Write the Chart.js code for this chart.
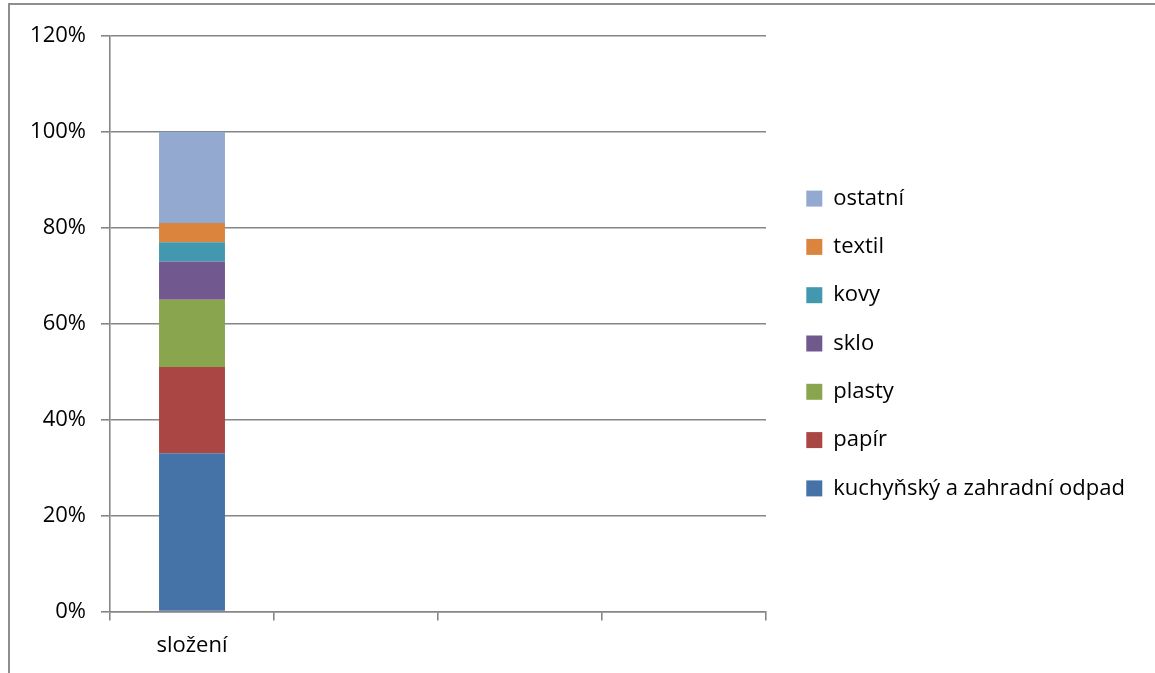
<!DOCTYPE html>
<html>
<head>
<meta charset="utf-8">
<script src="https://cdn.jsdelivr.net/npm/chart.js@4/dist/chart.umd.min.js"></script>
<style>
  html, body { margin: 0; padding: 0; background: #fff; overflow: hidden; }
  #frame { position: absolute; left: 8px; top: 3px; width: 2000px; height: 2000px;
           border-left: 2px solid #8e8e8e; border-top: 2px solid #8e8e8e; }
  #wrap { position: absolute; left: 0; top: 0; width: 1155px; height: 673px; }
</style>
</head>
<body>
<div id="frame"></div>
<div id="wrap"><canvas id="c" width="1155" height="673"></canvas></div>
<script>
const categories = ['složení', '', '', ''];
const seriesNames = ['kuchyňský a zahradní odpad', 'papír', 'plasty', 'sklo', 'kovy', 'textil', 'ostatní'];
const kuchynsky = [33, null, null, null];
const papir     = [18, null, null, null];
const plasty    = [14, null, null, null];
const sklo      = [8,  null, null, null];
const kovy      = [4,  null, null, null];
const textil    = [4,  null, null, null];
const ostatni   = [19, null, null, null];
const yTicks = [0, 20, 40, 60, 80, 100, 120];

const seriesValues = [kuchynsky, papir, plasty, sklo, kovy, textil, ostatni];
const colors = ['#4572A7', '#AA4643', '#89A54E', '#71588F', '#4198AF', '#DB843D', '#93A9CF'];

const FONT = '"Open Sans", "DejaVu Sans", sans-serif';
const AXIS = '#868686';

const legendPlace = {
  id: 'legendPlace',
  afterInit(chart) {
    const lg = chart.legend;
    const origFit = lg.fit;
    lg.fit = function () {
      origFit.call(this);
      this.width = 389;
    };
  },
  afterLayout(chart) {
    const lg = chart.legend;
    lg.left += 14; lg.right += 14;
    lg.top -= 10; lg.bottom -= 10;
  }
};

new Chart(document.getElementById('c'), {
  type: 'bar',
  data: {
    labels: categories,
    datasets: seriesNames.map((name, i) => ({
      label: name,
      data: seriesValues[i],
      backgroundColor: colors[i],
      borderWidth: 0,
      barPercentage: 0.402,
      categoryPercentage: 1.0
    }))
  },
  options: {
    responsive: false,
    animation: false,
    devicePixelRatio: 1,
    layout: { padding: { left: 0, top: 36, right: 0, bottom: 2 } },
    plugins: {
      tooltip: { enabled: false },
      legend: {
        position: 'right',
        reverse: true,
        labels: {
          font: { family: FONT, size: 22 },
          color: '#000',
          boxWidth: 16,
          boxHeight: 16,
          padding: 26.3
        }
      }
    },
    scales: {
      x: {
        stacked: true,
        grid: { display: true, drawOnChartArea: false, drawTicks: true, tickLength: 9, color: AXIS, lineWidth: 1.6, offset: true },
        border: { display: true, color: AXIS, width: 1.6 },
        ticks: { font: { family: FONT, size: 22 }, color: '#000', padding: 12, maxRotation: 0 }
      },
      y: {
        stacked: true,
        min: 0,
        max: 120,
        afterBuildTicks: (s) => { s.ticks = yTicks.map(v => ({ value: v })); },
        afterFit: (s) => { s.width = 110; },
        grid: { color: AXIS, lineWidth: 1.6, tickLength: 9, drawTicks: true },
        border: { display: true, color: AXIS, width: 1.6 },
        ticks: { font: { family: FONT, size: 22 }, color: '#000', padding: 15, callback: (v) => v + '%' }
      }
    }
  },
  plugins: [legendPlace]
});
</script>
</body>
</html>
